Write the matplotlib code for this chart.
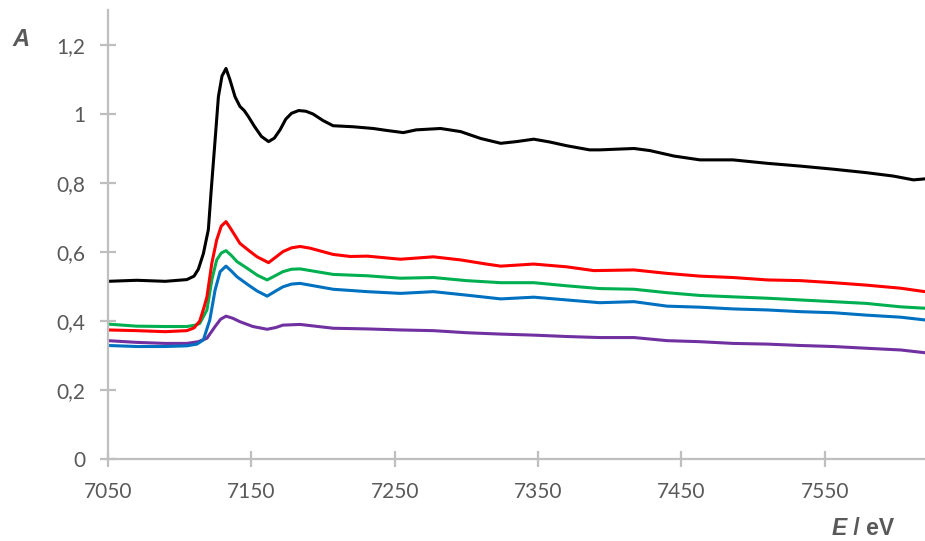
import matplotlib
matplotlib.use("Agg")
import matplotlib.pyplot as plt
from matplotlib.ticker import FuncFormatter, MultipleLocator, FixedLocator

# Fe K-edge XANES spectra: energy (eV) and absorbance A
black_E = [7050, 7070, 7090, 7105, 7110, 7113, 7116.5, 7120, 7122, 7124.7, 7127, 7129.5,
           7132.3, 7135, 7138.6, 7142, 7145, 7148, 7152, 7157, 7162, 7166, 7170, 7174,
           7178, 7183, 7188, 7193, 7200, 7207, 7221, 7235, 7245, 7256, 7265, 7282, 7296,
           7310, 7324, 7335, 7347, 7358, 7370, 7386, 7393, 7417, 7428, 7445, 7463, 7486,
           7510, 7533, 7556, 7579, 7598, 7612, 7620]
black_A = [0.515, 0.518, 0.515, 0.520, 0.530, 0.550, 0.595, 0.665, 0.780, 0.925, 1.050, 1.110,
           1.132, 1.100, 1.050, 1.022, 1.010, 0.992, 0.965, 0.935, 0.920, 0.930, 0.954, 0.985,
           1.002, 1.010, 1.008, 1.000, 0.981, 0.966, 0.963, 0.958, 0.952, 0.946, 0.954, 0.958, 0.949,
           0.929, 0.915, 0.920, 0.927, 0.919, 0.908, 0.896, 0.896, 0.900, 0.894, 0.878, 0.867, 0.867,
           0.857, 0.849, 0.840, 0.830, 0.820, 0.809, 0.812]

red_E = [7050, 7070, 7090, 7105, 7110, 7114, 7117, 7119, 7122.4, 7125.8, 7129, 7132.3, 7136,
         7142, 7148, 7154, 7162, 7167, 7172, 7178, 7184, 7191, 7207, 7219, 7231, 7254, 7277,
         7296, 7314, 7324, 7347, 7370, 7389, 7417, 7440, 7463, 7486, 7510, 7533, 7556, 7579,
         7603, 7620]
red_A = [0.374, 0.372, 0.369, 0.372, 0.380, 0.400, 0.440, 0.470, 0.567, 0.635, 0.675, 0.688, 0.665,
         0.625, 0.605, 0.586, 0.569, 0.585, 0.601, 0.612, 0.616, 0.611, 0.593, 0.587, 0.588, 0.579, 0.586,
         0.577, 0.565, 0.559, 0.565, 0.557, 0.546, 0.548, 0.538, 0.530, 0.526, 0.519, 0.517, 0.511, 0.504,
         0.495, 0.485]

green_E = [7050, 7070, 7090, 7105, 7111, 7114, 7119, 7122.4, 7125.8, 7129, 7132.3, 7136, 7140,
           7147, 7154, 7161, 7167, 7172, 7178, 7184, 7207, 7231, 7254, 7277, 7300, 7324, 7347,
           7370, 7393, 7417, 7440, 7463, 7486, 7510, 7533, 7556, 7579, 7603, 7620]
green_A = [0.391, 0.385, 0.384, 0.384, 0.388, 0.393, 0.432, 0.519, 0.577, 0.597, 0.604, 0.590, 0.572,
           0.553, 0.533, 0.519, 0.532, 0.543, 0.550, 0.551, 0.535, 0.531, 0.524, 0.526, 0.517, 0.511, 0.511,
           0.502, 0.494, 0.492, 0.482, 0.474, 0.470, 0.466, 0.461, 0.456, 0.451, 0.441, 0.437]

blue_E = [7050, 7070, 7090, 7105, 7112, 7116.5, 7121, 7124.7, 7128.2, 7132.3, 7136, 7140, 7148,
          7154, 7161, 7167, 7172, 7178, 7184, 7207, 7231, 7254, 7277, 7300, 7324, 7347, 7370,
          7393, 7417, 7440, 7463, 7486, 7510, 7533, 7556, 7579, 7603, 7620]
blue_A = [0.329, 0.326, 0.326, 0.328, 0.333, 0.345, 0.403, 0.490, 0.543, 0.559, 0.545, 0.528, 0.504,
          0.487, 0.472, 0.487, 0.499, 0.507, 0.509, 0.492, 0.485, 0.480, 0.485, 0.475, 0.464, 0.469, 0.461,
          0.453, 0.456, 0.443, 0.440, 0.435, 0.432, 0.427, 0.424, 0.417, 0.411, 0.403]

purple_E = [7050, 7070, 7090, 7105, 7113, 7119, 7124.7, 7128.5, 7132.3, 7137, 7142, 7151, 7161,
            7167, 7172, 7184, 7207, 7231, 7254, 7277, 7300, 7324, 7347, 7370, 7393, 7417, 7440,
            7463, 7486, 7510, 7533, 7556, 7579, 7603, 7620]
purple_A = [0.343, 0.338, 0.335, 0.335, 0.340, 0.350, 0.384, 0.405, 0.414, 0.408, 0.398, 0.384, 0.376,
            0.381, 0.388, 0.390, 0.379, 0.377, 0.374, 0.372, 0.366, 0.362, 0.359, 0.355, 0.352, 0.352, 0.343,
            0.340, 0.335, 0.333, 0.329, 0.326, 0.321, 0.316, 0.308]

x_ticks = [7050, 7150, 7250, 7350, 7450, 7550]

AXIS_GREY = "#BFBFBF"
TEXT_GREY = "#595959"

fig = plt.figure(figsize=(9.25, 5.41), dpi=100)
ax = fig.add_axes([0.1168, 0.1516, 0.8832, 0.829])

series = [
    (purple_E, purple_A, "#7030A0"),
    (blue_E, blue_A, "#0070C0"),
    (green_E, green_A, "#00B050"),
    (red_E, red_A, "#FF0000"),
    (black_E, black_A, "#000000"),
]
for E, A, c in series:
    ax.plot(E, A, color=c, lw=2.2, solid_joinstyle="round")

ax.set_xlim(7050, 7620)
ax.set_ylim(0, 1.3)
ax.xaxis.set_major_locator(FixedLocator(x_ticks))
ax.yaxis.set_major_locator(MultipleLocator(0.2))
ax.yaxis.set_major_formatter(FuncFormatter(lambda v, p: f"{v:.1f}".rstrip("0").rstrip(".").replace(".", ",")))

for side in ("top", "right"):
    ax.spines[side].set_visible(False)
for side in ("left", "bottom"):
    ax.spines[side].set_color(AXIS_GREY)
    ax.spines[side].set_linewidth(1.6)

ax.tick_params(axis="both", direction="inout", length=11.5, width=1.6, color=AXIS_GREY,
               labelcolor=TEXT_GREY, labelsize=15, pad=10.5)
for lbl in ax.get_xticklabels() + ax.get_yticklabels():
    lbl.set_fontfamily("Lato")

fig.text(12 / 925, 1 - 46 / 541, "A", fontfamily="Liberation Sans", fontweight="bold",
         fontstyle="italic", fontsize=17, color=TEXT_GREY, ha="left", va="baseline")
t_e = fig.text(832 / 925, 1 - 535 / 541, "E", fontfamily="Liberation Sans", fontweight="bold",
               fontstyle="italic", fontsize=16.5, color=TEXT_GREY, ha="left", va="baseline")
ax.annotate(" / eV", xy=(1, 0), xycoords=t_e, va="bottom", ha="left",
            fontfamily="Liberation Sans", fontweight="bold", fontsize=16.5, color=TEXT_GREY,
            annotation_clip=False)

fig.savefig("out.png", dpi=100)
